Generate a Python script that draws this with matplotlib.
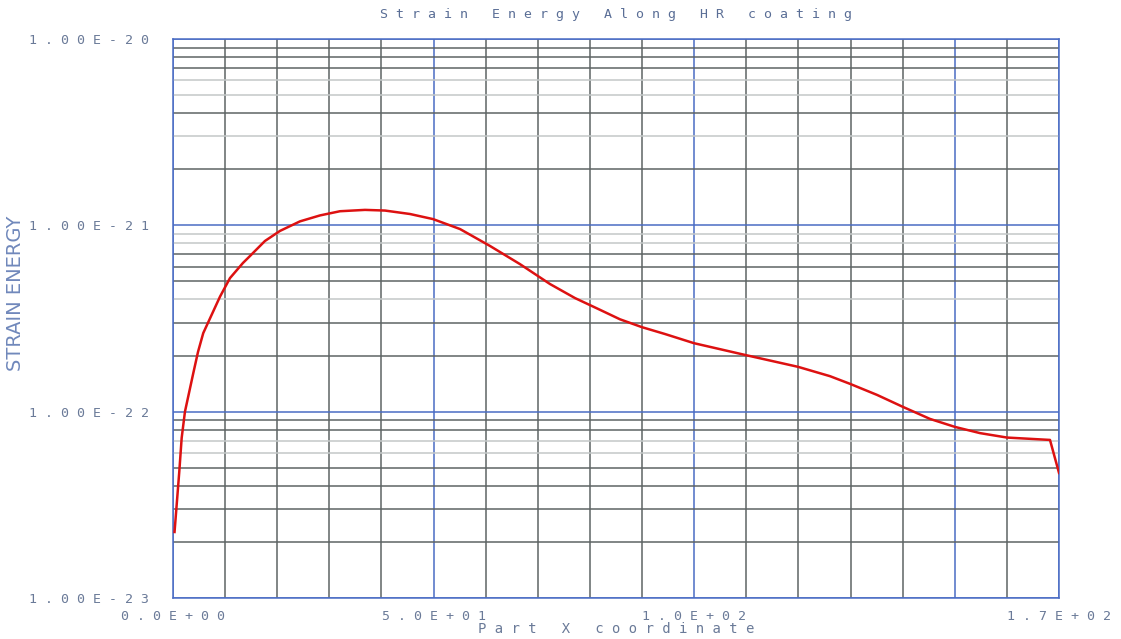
import numpy as np
import matplotlib.pyplot as plt

# values (x in part units, strain energy)
x_coord = [0.3, 0.71, 1.21, 1.67, 2.30, 3.90, 4.80, 5.81, 9.02, 10.94,
           13.43, 14.77, 17.65, 20.53, 24.37, 28.21, 32.04, 36.84, 40.68, 45.47,
           49.89, 55.07, 60.82, 66.58, 72.34, 77.13, 81.93, 85.77, 89.99, 94.40,
           99.97, 109.94, 119.92, 126.06, 129.90, 135.08, 140.07, 145.25, 150.04, 154.84,
           160.02, 168.27, 170.0]
strain_energy = [2.26e-23, 3.16e-23, 4.76e-23, 7.23e-23, 1.00e-22, 1.61e-22, 2.09e-22, 2.64e-22, 4.14e-22, 5.21e-22,
                 6.28e-22, 6.84e-22, 8.24e-22, 9.33e-22, 1.05e-21, 1.13e-21, 1.19e-21, 1.21e-21, 1.20e-21, 1.15e-21,
                 1.08e-21, 9.55e-22, 7.75e-22, 6.19e-22, 4.84e-22, 4.07e-22, 3.52e-22, 3.13e-22, 2.84e-22, 2.61e-22,
                 2.33e-22, 2.01e-22, 1.74e-22, 1.55e-22, 1.41e-22, 1.23e-22, 1.06e-22, 9.14e-23, 8.28e-23, 7.67e-23,
                 7.26e-23, 7.05e-23, 4.69e-23]

x_ticks = [0, 50, 100, 170]
x_tick_labels = ["0.0E+00", "5.0E+01", "1.0E+02", "1.7E+02"]
y_ticks = [1e-23, 1e-22, 1e-21, 1e-20]
y_tick_labels = ["1.00E-23", "1.00E-22", "1.00E-21", "1.00E-20"]

BLUE = "#4a6cc4"
DARK = "#5e6464"
LIGHT = "#c4c8c8"
TXT = "#6a7a98"


def spaced(s):
    return " ".join(s)


fig = plt.figure(figsize=(11.21, 6.39), dpi=100)
ax = fig.add_axes([0.1543, 0.0642, 0.7904, 0.8748])

ax.set_yscale("log")
ax.set_xlim(0, 170)
ax.set_ylim(1e-23, 1e-20)

# vertical grid, every 10 units
for xv in range(0, 171, 10):
    c = BLUE if xv in (0, 50, 100, 150, 170) else DARK
    ax.axvline(xv, color=c, lw=1.1, zorder=1)

# horizontal grid, shades copied per decade from the reference
decade_shades = {
    -21: [DARK, LIGHT, DARK, LIGHT, LIGHT, DARK, DARK, DARK],   # k = 2..9
    -22: [DARK, DARK, LIGHT, DARK, DARK, DARK, LIGHT, LIGHT],
    -23: [DARK, DARK, DARK, DARK, LIGHT, LIGHT, DARK, DARK],
}
for e, shades in decade_shades.items():
    for k, c in zip(range(2, 10), shades):
        ax.axhline(k * 10.0 ** e, color=c, lw=1.1, zorder=1)
for yv in y_ticks:
    ax.axhline(yv, color=BLUE, lw=1.1, zorder=1)

ax.plot(x_coord, strain_energy, color="#dd1111", lw=1.8, zorder=3)

for sp in ax.spines.values():
    sp.set_color(BLUE)
    sp.set_linewidth(1.1)

ax.minorticks_off()
ax.set_xticks(x_ticks)
ax.set_xticklabels([spaced(t) for t in x_tick_labels])
ax.set_yticks(y_ticks)
ax.set_yticklabels([spaced(t) for t in y_tick_labels])
ax.tick_params(length=0, colors=TXT, labelsize=9.5)
ax.tick_params(axis="x", pad=9)
ax.tick_params(axis="y", pad=17)
for lab in ax.get_xticklabels() + ax.get_yticklabels():
    lab.set_family("DejaVu Sans Mono")

ax.set_title(spaced("Strain Energy Along HR coating"), family="DejaVu Sans Mono",
             fontsize=9.5, color="#5a6e96", pad=15)
ax.set_xlabel(spaced("Part X coordinate"), family="DejaVu Sans Mono",
              fontsize=10, color=TXT, labelpad=-1)
fig.text(0.014, 0.541, "STRAIN ENERGY", rotation=90, ha="center", va="center",
         fontsize=14, color="#7088bb")

fig.savefig("out.png", dpi=100)
